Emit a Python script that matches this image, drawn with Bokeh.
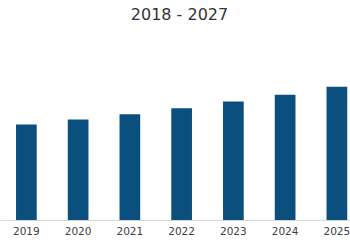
from bokeh.plotting import figure
from bokeh.models import Range1d, FixedTicker, Label, ColumnDataSource
from bokeh.embed import file_html
from bokeh.resources import INLINE

years = ["2019", "2020", "2021", "2022", "2023", "2024", "2025"]
values = [14.36, 15.11, 15.90, 16.80, 17.80, 18.80, 20.00]
title_text = "2018 - 2027"

PX_PER_CAT = 51.75
FRAME_H = 220
Y_END = FRAME_H / 133.7 * max(values)

idx = list(range(len(years)))
src = ColumnDataSource(dict(x=idx, top=values))

p = figure(width=350, height=250, output_backend="svg", toolbar_location=None,
           x_range=Range1d(-0.5, -0.5 + 350 / PX_PER_CAT), y_range=Range1d(0, Y_END),
           min_border_left=0, min_border_right=0, min_border_top=0, min_border_bottom=30)
p.vbar(x="x", top="top", width=0.4, source=src, color="#0a4f7e", line_color=None)

p.yaxis.visible = False
p.xgrid.visible = False
p.ygrid.visible = False
p.outline_line_color = None
p.background_fill_color = "white"
p.border_fill_color = "white"

ax = p.xaxis[0]
ax.ticker = FixedTicker(ticks=idx)
ax.major_label_overrides = {i: y for i, y in zip(idx, years)}
ax.major_tick_line_color = None
ax.minor_tick_line_color = None
ax.axis_line_color = "#d9d9d9"
ax.axis_line_width = 1
ax.major_label_standoff = 0
ax.major_label_text_font = "DejaVu Sans"
ax.major_label_text_font_size = "10.5px"
ax.major_label_text_color = "#404040"

p.add_layout(Label(x=-0.5 + 179 / PX_PER_CAT, y=(FRAME_H - 14) / FRAME_H * Y_END,
                   text=title_text, text_align="center", text_baseline="middle",
                   text_font="DejaVu Sans", text_font_size="16px", text_color="#333333"))

open("out.html", "w").write(file_html(p, INLINE))
